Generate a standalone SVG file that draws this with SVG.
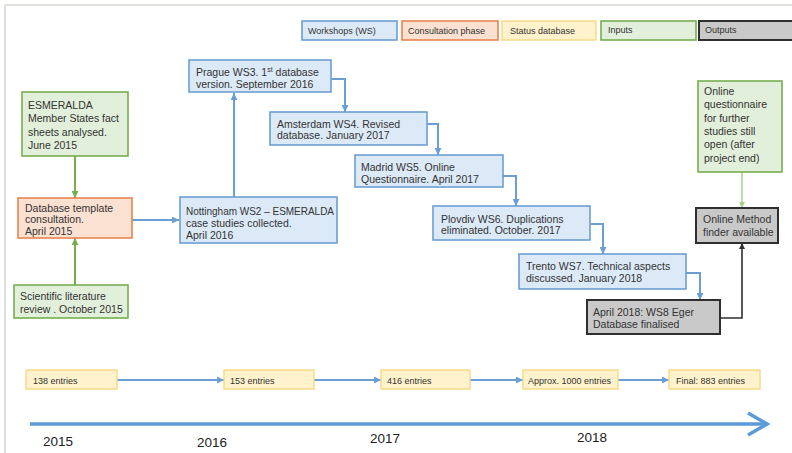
<svg xmlns="http://www.w3.org/2000/svg" width="792" height="453" viewBox="0 0 792 453">
<defs>
<style>
text{font-family:"Liberation Sans",Arial,sans-serif;fill:#333;}
.n{font-size:10.5px;}
.lg{font-size:9px;}
.st{font-size:9px;}
.yr{font-size:13.5px;fill:#222;}
.ws{fill:#dce9f7;stroke:#6b9fd3;stroke-width:1.6;}
.co{fill:#fbe1d2;stroke:#e8854f;stroke-width:1.6;}
.sd{fill:#fff2cc;stroke:#f7d983;stroke-width:1.4;}
.in{fill:#e2efda;stroke:#77ae4f;stroke-width:1.6;}
.out{fill:#c9c9c9;stroke:#2f2f2f;stroke-width:2;}
.cb{fill:none;stroke:#6b9fd3;stroke-width:2;marker-end:url(#ab);}
.cg{fill:none;stroke:#77ae4f;stroke-width:2;marker-end:url(#ag);}
.clg{fill:none;stroke:#a8d08d;stroke-width:1.5;marker-end:url(#alg);}
.cd{fill:none;stroke:#2f2f2f;stroke-width:1.6;marker-end:url(#ad);}
</style>
<marker id="ab" markerUnits="userSpaceOnUse" markerWidth="7" markerHeight="7" refX="7" refY="3.5" orient="auto"><path d="M0,0 L7,3.5 L0,7 z" fill="#6b9fd3"/></marker>
<marker id="ag" markerUnits="userSpaceOnUse" markerWidth="7" markerHeight="7" refX="7" refY="3.5" orient="auto"><path d="M0,0 L7,3.5 L0,7 z" fill="#77ae4f"/></marker>
<marker id="alg" markerUnits="userSpaceOnUse" markerWidth="6" markerHeight="6" refX="6" refY="3" orient="auto"><path d="M0,0 L6,3 L0,6 z" fill="#a8d08d"/></marker>
<marker id="ad" markerUnits="userSpaceOnUse" markerWidth="6" markerHeight="6" refX="6" refY="3" orient="auto"><path d="M0,0 L6,3 L0,6 z" fill="#2f2f2f"/></marker>
</defs>
<rect width="792" height="453" fill="#ffffff"/>
<path d="M5,453 V5 H792" fill="none" stroke="#e0e0dc" stroke-width="2"/>

<g id="legend">
<rect class="ws" x="302" y="21" width="95" height="19"/>
<text class="lg" x="308" y="34">Workshops (WS)</text>
<rect class="co" x="402" y="21" width="96" height="19"/>
<text class="lg" x="408" y="34">Consultation phase</text>
<rect class="sd" x="502" y="21" width="94" height="19"/>
<text class="lg" x="510" y="34">Status database</text>
<rect class="in" x="601" y="21" width="95" height="19"/>
<text class="lg" x="608" y="33">Inputs</text>
<rect class="out" x="699" y="21" width="95" height="19"/>
<text class="lg" x="705" y="33">Outputs</text>
</g>

<g id="connectors">
<path class="cg" d="M75,156 V198"/>
<path class="cg" d="M75,285 V238"/>
<path class="cb" d="M132,220 H179"/>
<path class="cb" d="M234,197 V93"/>
<path class="cb" d="M331,79 H345 V112"/>
<path class="cb" d="M427,124 H438 V155"/>
<path class="cb" d="M503,176 H516 V206"/>
<path class="cb" d="M590,224 H603 V254"/>
<path class="cb" d="M686,273 H700 V300"/>
<path class="cd" d="M720,318 H742 V243"/>
<path class="clg" d="M742,172 V208"/>
<path class="cb" d="M117,380 H224"/>
<path class="cb" d="M314,380 H381"/>
<path class="cb" d="M470,380 H523"/>
<path class="cb" d="M618,380 H669"/>
</g>

<g id="esmeralda">
<rect class="in" x="22" y="92" width="106" height="64"/>
<text class="n" x="28" y="109">ESMERALDA</text>
<text class="n" x="28" y="122">Member States fact</text>
<text class="n" x="28" y="136">sheets analysed.</text>
<text class="n" x="28" y="149">June 2015</text>
</g>

<g id="template">
<rect class="co" x="18" y="198" width="114" height="40"/>
<text class="n" x="25" y="212">Database template</text>
<text class="n" x="25" y="223">consultation.</text>
<text class="n" x="25" y="235">April 2015</text>
</g>

<g id="literature">
<rect class="in" x="14" y="285" width="114" height="33"/>
<text class="n" x="20" y="300">Scientific literature</text>
<text class="n" x="20" y="313">review . October 2015</text>
</g>

<g id="nottingham">
<rect class="ws" x="180" y="197" width="157" height="46"/>
<text class="n" x="186" y="215" textLength="148" lengthAdjust="spacingAndGlyphs">Nottingham WS2 – ESMERALDA</text>
<text class="n" x="186" y="227">case studies collected.</text>
<text class="n" x="186" y="239">April 2016</text>
</g>

<g id="prague">
<rect class="ws" x="189" y="60" width="142" height="32"/>
<text class="n" x="196" y="76">Prague WS3. 1<tspan dy="-4" font-size="7">st</tspan><tspan dy="4"> database</tspan></text>
<text class="n" x="196" y="88">version. September 2016</text>
</g>

<g id="amsterdam">
<rect class="ws" x="270" y="112" width="157" height="33"/>
<text class="n" x="277" y="128">Amsterdam WS4. Revised</text>
<text class="n" x="277" y="139">database. January 2017</text>
</g>

<g id="madrid">
<rect class="ws" x="355" y="155" width="148" height="32"/>
<text class="n" x="361" y="171">Madrid WS5. Online</text>
<text class="n" x="361" y="183">Questionnaire. April 2017</text>
</g>

<g id="plovdiv">
<rect class="ws" x="433" y="206" width="157" height="34"/>
<text class="n" x="441" y="223">Plovdiv WS6. Duplications</text>
<text class="n" x="441" y="234">eliminated. October. 2017</text>
</g>

<g id="trento">
<rect class="ws" x="519" y="254" width="167" height="35"/>
<text class="n" x="526" y="270">Trento WS7. Technical aspects</text>
<text class="n" x="526" y="282">discussed. January 2018</text>
</g>

<g id="eger">
<rect class="out" x="587" y="300" width="133" height="34"/>
<text class="n" x="593" y="316">April 2018: WS8 Eger</text>
<text class="n" x="593" y="328">Database finalised</text>
</g>

<g id="methodfinder">
<rect class="out" x="696" y="208" width="82" height="35"/>
<text class="n" x="703" y="223">Online Method</text>
<text class="n" x="703" y="236">finder available</text>
</g>

<g id="questionnaire">
<rect class="in" x="698" y="81" width="84" height="91"/>
<text class="n" x="704" y="95">Online</text>
<text class="n" x="704" y="108">questionnaire</text>
<text class="n" x="704" y="122">for further</text>
<text class="n" x="704" y="135">studies still</text>
<text class="n" x="704" y="148">open (after</text>
<text class="n" x="704" y="162">project end)</text>
</g>

<g id="s138">
<rect class="sd" x="26" y="370" width="91" height="19"/>
<text class="st" x="33" y="384">138 entries</text>
</g>
<g id="s153">
<rect class="sd" x="224" y="370" width="90" height="19"/>
<text class="st" x="230" y="384">153 entries</text>
</g>
<g id="s416">
<rect class="sd" x="381" y="370" width="89" height="19"/>
<text class="st" x="387" y="384">416 entries</text>
</g>
<g id="s1000">
<rect class="sd" x="523" y="370" width="95" height="19"/>
<text class="st" x="528" y="384">Approx. 1000 entries</text>
</g>
<g id="s883">
<rect class="sd" x="669" y="370" width="91" height="19"/>
<text class="st" x="676" y="384">Final: 883 entries</text>
</g>

<g id="timeline">
<path d="M30,424 H766" fill="none" stroke="#5b9bd5" stroke-width="3.5"/>
<path d="M748,413 L767,424 L748,435" fill="none" stroke="#5b9bd5" stroke-width="3.5" stroke-linejoin="miter"/>
<text class="yr" x="43" y="446">2015</text>
<text class="yr" x="197" y="447">2016</text>
<text class="yr" x="370" y="443">2017</text>
<text class="yr" x="577" y="442">2018</text>
</g>
</svg>
